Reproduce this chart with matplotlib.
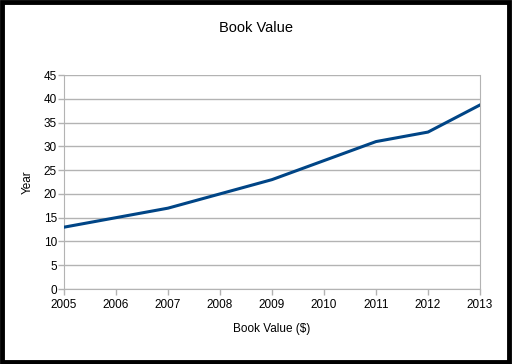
import matplotlib
matplotlib.use("Agg")
import matplotlib.pyplot as plt
from matplotlib.patches import Rectangle

years = [2005, 2006, 2007, 2008, 2009, 2010, 2011, 2012, 2013]
values = [13, 15, 17, 20, 23, 27, 31, 33, 38.7]
yticks = [0, 5, 10, 15, 20, 25, 30, 35, 40, 45]

plt.rcParams['font.family'] = ['Liberation Sans', 'DejaVu Sans']

fig = plt.figure(figsize=(5.12, 3.64), dpi=100)
ax = fig.add_axes([64/512, 1-289/364, (480-64)/512, (289-75)/364])

grid_c = '#b3b3b3'
for t in yticks:
    ax.axhline(t, color=grid_c, lw=1, zorder=1)
ax.plot(years, values, color='#004586', lw=2.2, zorder=3, solid_joinstyle='round')

ax.set_xlim(2005, 2013)
ax.set_ylim(0, 45)
ax.set_xticks(years)
ax.set_yticks(yticks)
ax.tick_params(axis='both', colors=grid_c, labelcolor='black', labelsize=8.5, length=4, width=1, direction='out')
ax.tick_params(axis='x', pad=3)
ax.tick_params(axis='y', pad=1)
for s in ['left', 'right', 'bottom']:
    ax.spines[s].set_color(grid_c)
ax.spines['top'].set_visible(False)

ax.set_xlabel('Book Value ($)', fontsize=8.5, labelpad=9)
ax.set_ylabel('Year', fontsize=8.5, labelpad=7)
fig.text(0.5, 1-28/364, 'Book Value', ha='center', va='center', fontsize=10.5)

fig.patches.append(Rectangle((1.5/512, 2.5/364), 1-5/512, 1-4.5/364, transform=fig.transFigure,
                             fill=False, edgecolor='black', lw=3.5))

fig.savefig('out.png', dpi=100)
